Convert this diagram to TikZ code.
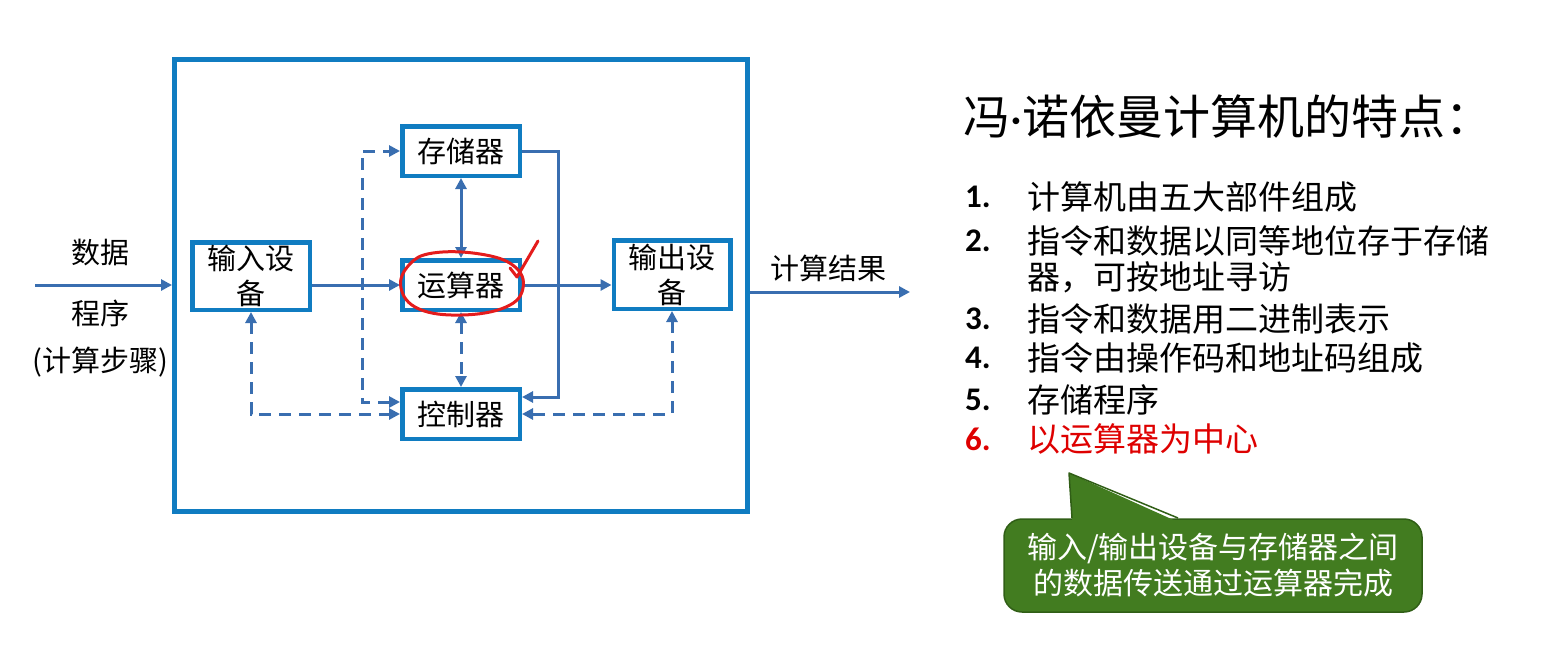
\documentclass[tikz,border=0pt]{standalone}
\usepackage{fontspec}
\setmainfont{Noto Sans CJK SC}
\newfontfamily\numfont{Carlito}
\usepackage{tikz}
\usetikzlibrary{arrows.meta}
\definecolor{frameblue}{RGB}{16,124,193}
\definecolor{linkblue}{RGB}{57,110,176}
\definecolor{penred}{RGB}{228,28,28}
\definecolor{itemred}{RGB}{222,0,0}
\definecolor{notegreen}{RGB}{66,124,32}
\definecolor{noteedge}{RGB}{48,94,22}

\tikzset{
  unit/.style={draw=frameblue, line width=4.5pt, minimum width=117.5pt, minimum height=49.5pt,
    inner sep=0pt, align=center, font=\fontsize{29pt}{35pt}\selectfont},
  flow/.style={linkblue, line width=3pt},
  signal/.style={linkblue, line width=3pt, dash pattern=on 12pt off 8pt},
  label/.style={inner sep=0pt, font=\fontsize{29pt}{35pt}\selectfont},
  point/.style={inner sep=0pt, anchor=west, font=\fontsize{33pt}{40pt}\selectfont},
  pointnum/.style={inner sep=0pt, anchor=west, font=\numfont\bfseries\fontsize{33pt}{40pt}\selectfont},
}

\begin{document}
\begin{tikzpicture}[x=1pt, y=-1pt, >={Triangle[length=11pt,width=11pt]}]
    \useasboundingbox (0,0) rectangle (1554,661);

    % the machine
    \node [draw=frameblue, line width=5pt, minimum width=573pt, minimum height=452pt] (host) at (461,285.5) {};

    \node [unit] (mem) at (461,151) {存储器};
    \node [unit] (alu) at (461,285) {运算器};
    \node [unit] (ctrl) at (461,414) {控制器};
    \node [unit, minimum height=67.5pt] (in) at (251,276) {输入设\\备};
    \node [unit, minimum width=116.5pt, minimum height=68.5pt] (out) at (672,274.5) {输出设\\备};

    % data paths
    \draw [flow, ->] (in.east |- alu) -- (alu.west);
    \draw [flow, ->] (alu.east) -- (alu.east -| out.west);
    \draw [flow, <->] (mem.south) -- (alu.north);
    \draw [flow, ->] (mem.east) -- ++(36,0) |- ([yshift=17pt]ctrl.east);

    % control signals
    \draw [signal, <->] (alu.south) -- (ctrl.north);
    \draw [signal, <->] ([yshift=12pt]ctrl.west) -- ++(-38,0) |- (mem.west);
    \draw [signal, <->] (in.south) |- (ctrl.west);
    \draw [signal, <->] (out.south) |- (ctrl.east);

    % outside
    \coordinate (src) at (35,285);
    \coordinate (sink) at (910,292);
    \draw [flow, ->] (src) -- (src -| host.west);
    \draw [flow, ->] (sink -| host.east) -- (sink);
    \node [label] (data) at (100,253) {数据};
    \node [label] (prog) at (100,313) {程序};
    \node [label] (steps) at (100,362) {(计算步骤)};
    \node [label] (result) at (828,268) {计算结果};

    % pen marks
    \draw [penred, line width=3pt, line cap=round] plot [smooth cycle, tension=0.7]
      coordinates {(433,253) (480,254) (514,266) (523,288) (506,307) (462,315) (419,309) (401,288) (409,265)};
    \draw [penred, line width=3pt, line cap=round, line join=round] (510,268) -- (517,277) -- (538,241);

    % features
    \node [inner sep=0pt, anchor=west, font=\fontsize{47pt}{52pt}\selectfont] (title) at (963,117)
      {冯{\numfont ·}诺依曼计算机的特点：};
    \node [pointnum] (n1) at (965,197) {1.};
    \node [point] (p1) at (1027,197) {计算机由五大部件组成};
    \node [pointnum] (n2) at (965,241) {2.};
    \node [point] (p2) at (1027,241) {指令和数据以同等地位存于存储};
    \node [point] (p2b) at (1027,277) {器，可按地址寻访};
    \node [pointnum] (n3) at (965,319) {3.};
    \node [point] (p3) at (1027,319) {指令和数据用二进制表示};
    \node [pointnum] (n4) at (965,358) {4.};
    \node [point] (p4) at (1027,358) {指令由操作码和地址码组成};
    \node [pointnum] (n5) at (965,400) {5.};
    \node [point] (p5) at (1027,400) {存储程序};
    \node [pointnum, itemred] (n6) at (965,439) {6.};
    \node [point, itemred] (p6) at (1027,439) {以运算器为中心};

    % callout
    \node [fill=notegreen, draw=noteedge, line width=1.5pt, rounded corners=18pt, minimum width=418pt,
      minimum height=93pt, align=center, text=white, font=\fontsize{30pt}{36pt}\selectfont] (note) at (1213,565.5)
      {输入/输出设备与存储器之间\\的数据传送通过运算器完成};
    \coordinate (tip) at (1069,473);
    \fill [notegreen] (1072,522) -- (tip) -- (1178,522) -- cycle;
    \draw [noteedge, line width=1.5pt, line join=round] (1072,518) -- (tip) -- (1178,518);
\end{tikzpicture}
\end{document}
